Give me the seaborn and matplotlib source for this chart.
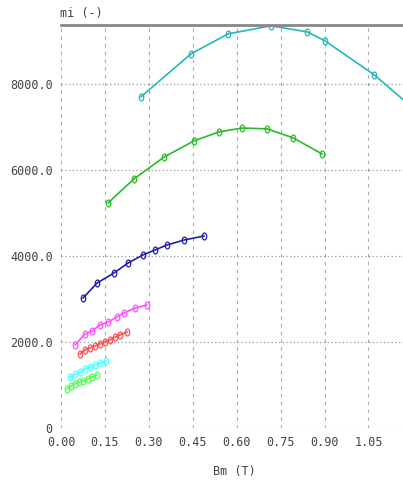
"""mi vs Bm curves for several frequencies."""
import matplotlib
matplotlib.use("Agg")
import matplotlib.pyplot as plt
import numpy as np
import pandas as pd
import seaborn as sns

# Curve data
bm_teal = [0.273, 0.444, 0.571, 0.717, 0.841, 0.902, 1.070, 1.200]
mi_teal = [7700, 8700, 9165, 9350, 9210, 9000, 8210, 7450]
bm_green = [0.161, 0.249, 0.352, 0.454, 0.540, 0.618, 0.704, 0.793, 0.892]
mi_green = [5235, 5790, 6300, 6675, 6885, 6975, 6955, 6745, 6370]
bm_blue = [0.075, 0.123, 0.181, 0.229, 0.280, 0.321, 0.362, 0.420, 0.489]
mi_blue = [3020, 3370, 3605, 3835, 4025, 4140, 4255, 4370, 4465]
bm_magenta = [0.048, 0.082, 0.106, 0.133, 0.161, 0.191, 0.215, 0.253, 0.294]
mi_magenta = [1930, 2185, 2255, 2395, 2465, 2580, 2675, 2790, 2860]
bm_red = [0.065, 0.082, 0.099, 0.116, 0.133, 0.150, 0.167, 0.185, 0.202, 0.226]
mi_red = [1720, 1815, 1860, 1905, 1955, 2000, 2045, 2115, 2165, 2235]
bm_aqua = [0.031, 0.048, 0.065, 0.082, 0.099, 0.116, 0.133, 0.154]
mi_aqua = [1185, 1255, 1300, 1370, 1420, 1465, 1510, 1560]
bm_lime = [0.020, 0.034, 0.048, 0.061, 0.075, 0.092, 0.106, 0.123]
mi_lime = [905, 975, 1025, 1070, 1095, 1140, 1185, 1235]

x_ticks = [0.00, 0.15, 0.30, 0.45, 0.60, 0.75, 0.90, 1.05]
y_ticks = [0, 2000, 4000, 6000, 8000]

series = [
    (bm_teal, mi_teal, "#22b8b8"),
    (bm_green, mi_green, "#28bb28"),
    (bm_blue, mi_blue, "#1e1eaa"),
    (bm_magenta, mi_magenta, "#ff50ff"),
    (bm_red, mi_red, "#ff5050"),
    (bm_aqua, mi_aqua, "#50ffff"),
    (bm_lime, mi_lime, "#50ff50"),
]

sns.set_style("white")
plt.rcParams["font.family"] = ["DejaVu Sans Mono"]

fig = plt.figure(figsize=(4.03, 4.83), dpi=100)
ax = fig.add_axes([61 / 403, 55 / 483, 342 / 403, 403 / 483])

# open, slightly tall ellipse marker like the "0" glyphs
t = np.linspace(0, 2 * np.pi, 25)
ellipse = np.column_stack([0.65 * np.cos(t), np.sin(t)])

for bm, mi, color in series:
    df = pd.DataFrame({"Bm": bm, "mi": mi})
    sns.lineplot(
        data=df, x="Bm", y="mi", ax=ax, color=color, linewidth=1.2,
        marker=ellipse, markersize=5, markerfacecolor="none",
        markeredgecolor=color, markeredgewidth=0.9, sort=False,
    )

ax.set_xlim(0, 1.168)
ax.set_ylim(0, 9370)
ax.set_xticks(x_ticks)
ax.set_xticklabels(["%.2f" % v for v in x_ticks])
ax.set_yticks(y_ticks)
ax.set_yticklabels(["0" if v == 0 else "%.1f" % v for v in y_ticks])
ax.tick_params(length=0, labelsize=8.5, colors="#444444", pad=6)
ax.set_xlabel("")
ax.set_ylabel("")

ax.xaxis.grid(True, linestyle=(0, (3, 4)), color="#aaaaaa", linewidth=0.8)
ax.yaxis.grid(True, linestyle=(0, (1, 2)), color="#999999", linewidth=0.9)
ax.set_axisbelow(True)

for side in ["left", "right", "bottom"]:
    ax.spines[side].set_visible(False)
ax.spines["top"].set_color("#888888")
ax.spines["top"].set_linewidth(2)

fig.text(60 / 403, 1 - 13 / 483, "mi (-)", fontsize=8.5, color="#444444",
         ha="left", va="center")
fig.text(234 / 403, 1 - 472 / 483, "Bm (T)", fontsize=8.5, color="#444444",
         ha="center", va="center")

fig.savefig("out.png", dpi=100)
